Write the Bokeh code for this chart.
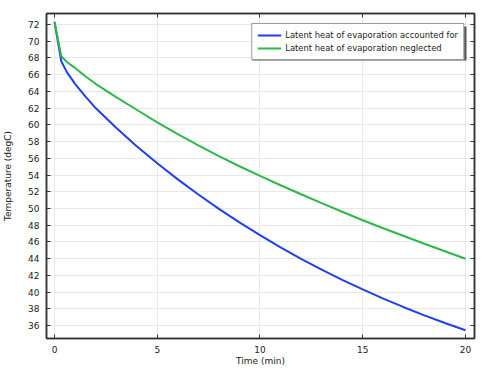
from bokeh.plotting import figure
from bokeh.models import Range1d, LinearAxis, Legend, LegendItem, SingleIntervalTicker, BoxAnnotation
from bokeh.embed import file_html
from bokeh.resources import INLINE

time_min = [0, 0.33, 0.6, 1, 1.5, 2, 3, 4, 5, 6, 7, 8, 9, 10, 11, 12, 13, 14, 15, 16, 17, 18, 19, 20]
temp_accounted = [72.3, 67.6, 66.3, 64.9, 63.4, 62.0, 59.65, 57.45, 55.4, 53.48, 51.67, 49.96, 48.34, 46.81,
                  45.36, 43.99, 42.70, 41.48, 40.33, 39.24, 38.21, 37.24, 36.32, 35.45]
temp_neglected = [72.3, 68.2, 67.5, 66.8, 65.8, 64.9, 63.3, 61.8, 60.3, 58.9, 57.55, 56.25, 55.05, 53.9,
                  52.78, 51.70, 50.64, 49.61, 48.6, 47.64, 46.71, 45.79, 44.89, 44.0]

FONT = "DejaVu Sans"

p = figure(width=481, height=368, output_backend="svg", toolbar_location=None,
           x_range=Range1d(-0.39, 20.44), y_range=Range1d(34.47, 73.3),
           min_border_left=45, min_border_right=7, min_border_top=13, min_border_bottom=26)
p.xaxis.visible = False
p.yaxis.visible = False

def style_axis(ax, labels=True):
    ax.axis_line_color = "#333333"
    ax.axis_line_width = 1.5
    ax.major_tick_in = 4
    ax.major_tick_out = 0
    ax.minor_tick_line_color = None
    ax.major_tick_line_color = "#333333"
    ax.major_label_text_font = FONT
    ax.major_label_text_font_size = "9px"
    ax.major_label_text_color = "#222222"
    ax.axis_label_text_font = FONT
    ax.axis_label_text_font_size = "9px"
    ax.axis_label_text_font_style = "normal"
    ax.axis_label_text_color = "#222222"
    if not labels:
        ax.major_label_text_font_size = "0px"
        ax.major_label_text_alpha = 0

xt = SingleIntervalTicker(interval=5)
yt = SingleIntervalTicker(interval=2)

xb = LinearAxis(ticker=xt, axis_label="Time (min)")
style_axis(xb)
xb.major_label_standoff = 3
xb.axis_label_standoff = 0
p.add_layout(xb, "below")

yl = LinearAxis(ticker=yt, axis_label="Temperature (degC)")
style_axis(yl)
yl.major_label_standoff = 3
yl.axis_label_standoff = 12
p.add_layout(yl, "left")

xa = LinearAxis(ticker=SingleIntervalTicker(interval=5))
style_axis(xa, labels=False)
p.add_layout(xa, "above")
yr = LinearAxis(ticker=SingleIntervalTicker(interval=2))
style_axis(yr, labels=False)
p.add_layout(yr, "right")

p.xgrid.ticker = xt
p.ygrid.ticker = yt
p.xgrid.grid_line_color = "#e8e8e8"
p.ygrid.grid_line_color = "#e8e8e8"
p.outline_line_color = "#333333"
p.outline_line_width = 1.5

shadow = BoxAnnotation(left=206, right=420, top=312, bottom=278,
                       left_units="screen", right_units="screen", top_units="screen", bottom_units="screen",
                       fill_color="#444444", fill_alpha=0.9, line_color=None, level="underlay")
p.add_layout(shadow)

r1 = p.line(time_min, temp_accounted, line_color="#1f3ff0", line_width=2)
r2 = p.line(time_min, temp_neglected, line_color="#2db84a", line_width=2)

legend = Legend(items=[LegendItem(label="Latent heat of evaporation accounted for", renderers=[r1]),
                       LegendItem(label="Latent heat of evaporation neglected", renderers=[r2])],
                location="top_right")
legend.label_text_font = FONT
legend.label_text_font_size = "8.4px"
legend.label_text_color = "#222222"
legend.glyph_width = 24
legend.glyph_height = 12
legend.label_height = 12
legend.label_standoff = 4
legend.spacing = 1
legend.padding = 5
legend.margin = 10
legend.border_line_color = "#333333"
legend.border_line_width = 1
legend.background_fill_alpha = 1
p.add_layout(legend)

open("out.html", "w").write(file_html(p, INLINE))
